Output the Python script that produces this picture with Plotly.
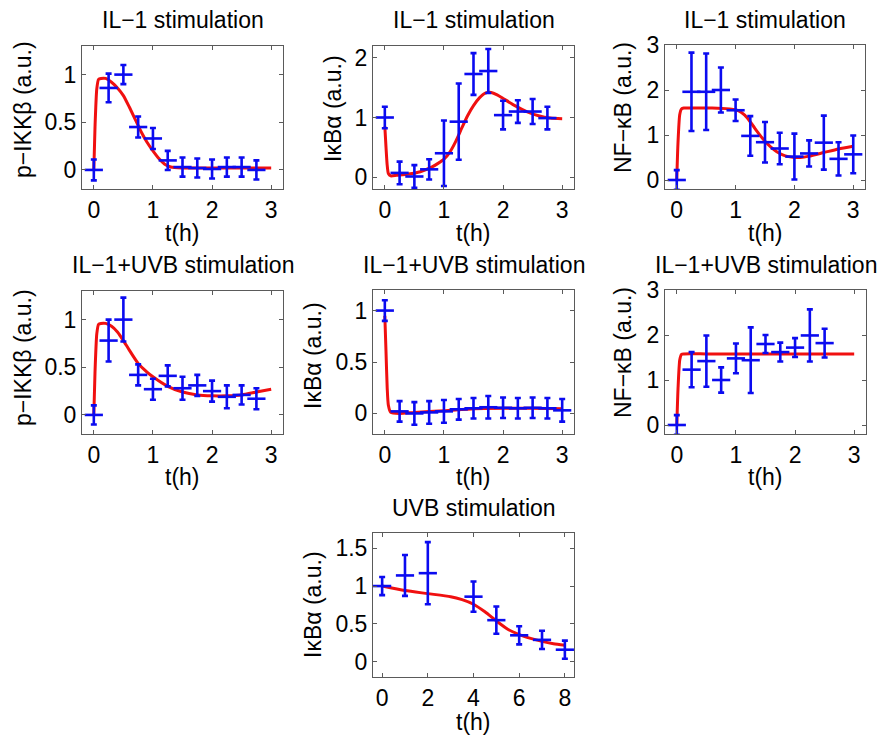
import plotly.graph_objects as go

# ---------------- data ----------------
# Panel 1: p-IKKbeta, IL-1
t_ikk_il1 = [0, 0.25, 0.5, 0.75, 1.0, 1.25, 1.5, 1.75, 2.0, 2.25, 2.5, 2.75]
y_ikk_il1 = [0.0, 0.86, 1.0, 0.45, 0.33, 0.10, 0.03, 0.02, 0.01, 0.03, 0.03, 0.0]
e_ikk_il1 = [0.11, 0.15, 0.10, 0.11, 0.11, 0.10, 0.10, 0.10, 0.10, 0.10, 0.10, 0.10]
tm_ikk_il1 = [0, 0.02, 0.05, 0.08, 0.12, 0.2, 0.3, 0.4, 0.5, 0.6, 0.7, 0.8, 0.9, 1.0, 1.1, 1.2, 1.3, 1.5, 2.0, 2.5, 3.0]
ym_ikk_il1 = [0, 0.45, 0.85, 0.95, 0.96, 0.96, 0.92, 0.86, 0.78, 0.66, 0.53, 0.40, 0.29, 0.20, 0.12, 0.06, 0.03, 0.02, 0.02, 0.02, 0.02]

# Panel 2: IkBa, IL-1
t_ikb_il1 = [0, 0.25, 0.5, 0.75, 1.0, 1.25, 1.5, 1.75, 2.0, 2.25, 2.5, 2.75]
y_ikb_il1 = [1.0, 0.07, 0.01, 0.13, 0.40, 0.93, 1.73, 1.78, 1.04, 1.10, 1.10, 0.99]
e_ikb_il1 = [0.18, 0.19, 0.19, 0.17, 0.55, 0.64, 0.35, 0.37, 0.24, 0.19, 0.21, 0.19]
tm_ikb_il1 = [0, 0.02, 0.04, 0.06, 0.1, 0.2, 0.4, 0.6, 0.8, 0.9, 1.0, 1.1, 1.2, 1.3, 1.4, 1.5, 1.6, 1.7, 1.8, 1.9, 2.0, 2.2, 2.4, 2.6, 2.8, 3.0]
ym_ikb_il1 = [0.85, 0.5, 0.2, 0.06, 0.02, 0.03, 0.05, 0.09, 0.17, 0.23, 0.30, 0.42, 0.60, 0.82, 1.03, 1.20, 1.33, 1.41, 1.42, 1.38, 1.32, 1.20, 1.10, 1.03, 0.99, 0.98]

# Panel 3: NF-kB, IL-1
t_nfk_il1 = [0, 0.25, 0.5, 0.75, 1.0, 1.25, 1.5, 1.75, 2.0, 2.25, 2.5, 2.75, 3.0]
y_nfk_il1 = [0.0, 1.96, 1.96, 2.0, 1.55, 0.98, 0.84, 0.70, 0.52, 0.59, 0.83, 0.47, 0.57]
e_nfk_il1 = [0.22, 0.87, 0.85, 0.50, 0.24, 0.44, 0.45, 0.35, 0.51, 0.29, 0.60, 0.37, 0.42]
tm_nfk_il1 = [0, 0.02, 0.05, 0.08, 0.12, 0.3, 0.6, 0.9, 1.0, 1.1, 1.2, 1.3, 1.4, 1.5, 1.6, 1.7, 1.8, 1.9, 2.0, 2.1, 2.25, 2.5, 2.75, 3.0]
ym_nfk_il1 = [0, 0.8, 1.45, 1.58, 1.6, 1.6, 1.6, 1.58, 1.56, 1.5, 1.38, 1.2, 1.02, 0.86, 0.73, 0.63, 0.56, 0.52, 0.50, 0.50, 0.53, 0.61, 0.69, 0.75]

# Panel 4: p-IKKbeta, IL-1+UVB
t_ikk_uvb = [0, 0.25, 0.5, 0.75, 1.0, 1.25, 1.5, 1.75, 2.0, 2.25, 2.5, 2.75]
y_ikk_uvb = [0.0, 0.78, 1.0, 0.42, 0.27, 0.41, 0.28, 0.31, 0.25, 0.19, 0.21, 0.17]
e_ikk_uvb = [0.10, 0.22, 0.23, 0.11, 0.11, 0.11, 0.12, 0.11, 0.11, 0.12, 0.10, 0.11]
tm_ikk_uvb = [0, 0.02, 0.05, 0.08, 0.12, 0.2, 0.3, 0.4, 0.5, 0.6, 0.75, 0.9, 1.0, 1.25, 1.5, 1.75, 2.0, 2.25, 2.5, 2.75, 3.0]
ym_ikk_uvb = [0, 0.45, 0.85, 0.95, 0.96, 0.96, 0.93, 0.87, 0.78, 0.68, 0.54, 0.45, 0.40, 0.30, 0.24, 0.21, 0.20, 0.20, 0.21, 0.24, 0.27]

# Panel 5: IkBa, IL-1+UVB
t_ikb_uvb = [0, 0.25, 0.5, 0.75, 1.0, 1.25, 1.5, 1.75, 2.0, 2.25, 2.5, 2.75, 3.0]
y_ikb_uvb = [1.0, 0.02, 0.0, 0.01, 0.02, 0.04, 0.05, 0.06, 0.055, 0.05, 0.055, 0.05, 0.03]
e_ikb_uvb = [0.10, 0.10, 0.11, 0.11, 0.11, 0.10, 0.10, 0.11, 0.10, 0.10, 0.10, 0.10, 0.11]
tm_ikb_uvb = [0, 0.02, 0.04, 0.06, 0.1, 0.25, 0.5, 1.0, 1.5, 2.0, 2.5, 3.0]
ym_ikb_uvb = [0.95, 0.6, 0.25, 0.08, 0.01, 0.0, 0.01, 0.025, 0.045, 0.05, 0.05, 0.045]

# Panel 6: NF-kB, IL-1+UVB
t_nfk_uvb = [0, 0.25, 0.5, 0.75, 1.0, 1.25, 1.5, 1.75, 2.0, 2.25, 2.5]
y_nfk_uvb = [0.0, 1.23, 1.42, 1.0, 1.48, 1.44, 1.80, 1.62, 1.72, 1.99, 1.82]
e_nfk_uvb = [0.22, 0.39, 0.57, 0.28, 0.33, 0.73, 0.20, 0.21, 0.21, 0.58, 0.32]
tm_nfk_uvb = [0, 0.02, 0.05, 0.08, 0.12, 0.5, 1.0, 1.5, 2.0, 2.5, 3.0]
ym_nfk_uvb = [0, 0.8, 1.45, 1.57, 1.58, 1.58, 1.58, 1.58, 1.58, 1.58, 1.58]

# Panel 7: IkBa, UVB
t_ikb_only = [0, 1, 2, 4, 5, 6, 7, 8]
y_ikb_only = [1.0, 1.14, 1.17, 0.86, 0.55, 0.35, 0.29, 0.16]
e_ikb_only = [0.12, 0.27, 0.41, 0.20, 0.18, 0.12, 0.12, 0.12]
tm_ikb_only = [0, 1, 2, 3, 3.5, 4, 4.5, 5, 5.5, 6, 6.5, 7, 7.5, 8]
ym_ikb_only = [1.0, 0.94, 0.90, 0.86, 0.82, 0.76, 0.66, 0.54, 0.43, 0.36, 0.31, 0.27, 0.24, 0.22]

titles = ["IL−1 stimulation", "IL−1 stimulation", "IL−1 stimulation",
          "IL−1+UVB stimulation", "IL−1+UVB stimulation", "IL−1+UVB stimulation",
          "UVB stimulation"]
ylabels = ["p−IKKβ (a.u.)", "IκBα (a.u.)", "NF−κB (a.u.)",
           "p−IKKβ (a.u.)", "IκBα (a.u.)", "NF−κB (a.u.)", "IκBα (a.u.)"]
xlabel = "t(h)"

xticks_short = [0, 1, 2, 3]
xticks_long = [0, 2, 4, 6, 8]
yticks_ikk = [0, 0.5, 1]
yticks_ikb_il1 = [0, 1, 2]
yticks_nfk = [0, 1, 2, 3]
yticks_ikb_uvb = [0, 0.5, 1]
yticks_ikb_only = [0, 0.5, 1, 1.5]

# ---------------- layout geometry (pixels, page coords) ----------------
W, H = 881, 736
FONT = "Liberation Sans"
FS = 23
BLUE = "#0b0bf0"
RED = "#f01010"

panels = [
    dict(t=t_ikk_il1, y=y_ikk_il1, e=e_ikk_il1, tm=tm_ikk_il1, ym=ym_ikk_il1,
         box=(82, 283, 46, 189), xr=[-0.2, 3.2], yr=[-0.2, 1.3], xt=xticks_short, yt=yticks_ikk,
         ylx=23, yly=110, ty=20, xly=233),
    dict(t=t_ikb_il1, y=y_ikb_il1, e=e_ikb_il1, tm=tm_ikb_il1, ym=ym_ikb_il1,
         box=(373, 574, 46, 189), xr=[-0.2, 3.2], yr=[-0.2, 2.2], xt=xticks_short, yt=yticks_ikb_il1,
         ylx=333, yly=109, ty=20, xly=233),
    dict(t=t_nfk_il1, y=y_nfk_il1, e=e_nfk_il1, tm=tm_nfk_il1, ym=ym_nfk_il1,
         box=(665, 865, 45, 189), xr=[-0.2, 3.2], yr=[-0.2, 3.0], xt=xticks_short, yt=yticks_nfk,
         ylx=623, yly=108, ty=20, xly=233),
    dict(t=t_ikk_uvb, y=y_ikk_uvb, e=e_ikk_uvb, tm=tm_ikk_uvb, ym=ym_ikk_uvb,
         box=(82, 283, 291, 434), xr=[-0.2, 3.2], yr=[-0.2, 1.3], xt=xticks_short, yt=yticks_ikk,
         ylx=23, yly=358, ty=265, xly=477),
    dict(t=t_ikb_uvb, y=y_ikb_uvb, e=e_ikb_uvb, tm=tm_ikb_uvb, ym=ym_ikb_uvb,
         box=(373, 574, 290, 434), xr=[-0.2, 3.2], yr=[-0.2, 1.2], xt=xticks_short, yt=yticks_ikb_uvb,
         ylx=313, yly=356, ty=265, xly=477),
    dict(t=t_nfk_uvb, y=y_nfk_uvb, e=e_nfk_uvb, tm=tm_nfk_uvb, ym=ym_nfk_uvb,
         box=(665, 866, 290, 434), xr=[-0.2, 3.2], yr=[-0.2, 3.0], xt=xticks_short, yt=yticks_nfk,
         ylx=623, yly=353, ty=265, xly=477),
    dict(t=t_ikb_only, y=y_ikb_only, e=e_ikb_only, tm=tm_ikb_only, ym=ym_ikb_only,
         box=(373, 574, 533, 677), xr=[-0.4, 8.4], yr=[-0.2, 1.7], xt=xticks_long, yt=yticks_ikb_only,
         ylx=313, yly=605, ty=508, xly=722),
]


def px(x):
    return x / W


def py(y):
    return 1 - y / H


fig = go.Figure()
layout = dict(
    template="none",
    width=W, height=H, margin=dict(l=0, r=0, t=0, b=0, autoexpand=False),
    paper_bgcolor="white", plot_bgcolor="white", showlegend=False,
    font=dict(family=FONT, size=FS, color="black"),
)
annotations = []

for i, p in enumerate(panels):
    k = "" if i == 0 else str(i + 1)
    x0, x1, y0, y1 = p["box"]
    axis_common = dict(
        showgrid=False, zeroline=False, showline=True, linecolor="#5a5a5a", linewidth=1,
        mirror="ticks", ticks="inside", ticklen=4, tickcolor="#5a5a5a", tickwidth=1,
        tickfont=dict(family=FONT, size=FS, color="black"), automargin=False,
    )
    layout["xaxis" + k] = dict(
        axis_common, domain=[px(x0), px(x1)], range=p["xr"], tickvals=p["xt"],
        anchor="y" + k, ticklabelstandoff=0,
    )
    layout["yaxis" + k] = dict(
        axis_common, domain=[py(y1), py(y0)], range=p["yr"], tickvals=p["yt"],
        anchor="x" + k, ticklabelstandoff=0,
    )
    fig.add_trace(go.Scatter(
        x=p["tm"], y=p["ym"], mode="lines", xaxis="x" + k, yaxis="y" + k,
        line=dict(color=RED, width=3, shape="spline", smoothing=0.6),
        hoverinfo="skip",
    ))
    fig.add_trace(go.Scatter(
        x=p["t"], y=p["y"], mode="markers", xaxis="x" + k, yaxis="y" + k,
        marker=dict(symbol="line-ew", size=13, color=BLUE, line=dict(color=BLUE, width=2.6)),
        error_y=dict(type="data", array=p["e"], visible=True, color=BLUE, thickness=2.6, width=3),
    ))
    cx = (x0 + x1) / 2
    annotations.append(dict(text=titles[i], x=px(cx), y=py(p["ty"]), xref="paper", yref="paper",
                            xanchor="center", yanchor="middle", showarrow=False,
                            font=dict(family=FONT, size=FS, color="black")))
    annotations.append(dict(text=xlabel, x=px(cx), y=py(p["xly"]), xref="paper", yref="paper",
                            xanchor="center", yanchor="middle", showarrow=False,
                            font=dict(family=FONT, size=FS, color="black")))
    annotations.append(dict(text=ylabels[i], x=px(p["ylx"]), y=py(p["yly"]), xref="paper", yref="paper",
                            xanchor="center", yanchor="middle", showarrow=False, textangle=-90,
                            font=dict(family=FONT, size=FS, color="black")))

layout["annotations"] = annotations
fig.update_layout(**layout)
fig.write_html(
    "out.html",
    config={"displayModeBar": False},
    post_script="document.body.style.margin='0';document.body.style.overflow='hidden';",
)
